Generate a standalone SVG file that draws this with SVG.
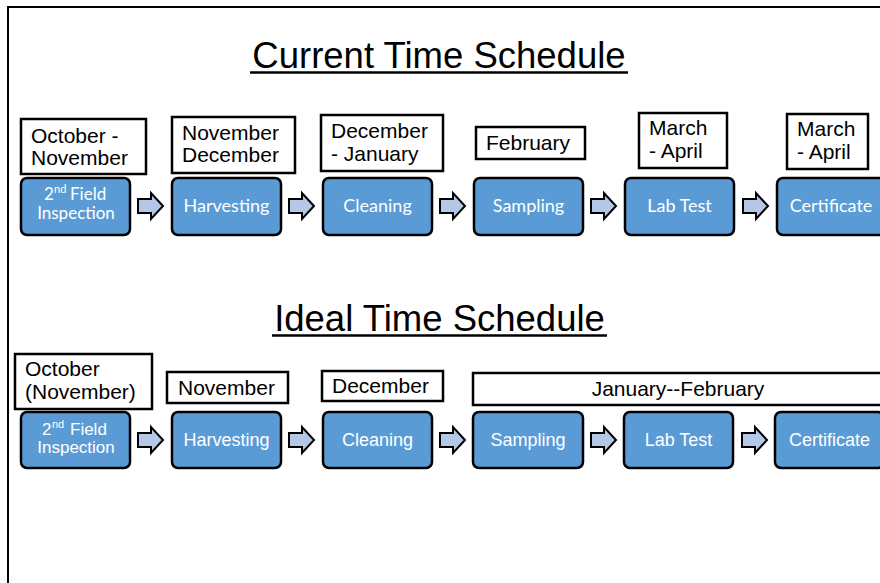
<svg xmlns="http://www.w3.org/2000/svg" width="880" height="583" viewBox="0 0 880 583">
  <style>
    .title { font-family: "Liberation Sans", Arial, sans-serif; font-size: 36.5px; fill: #000; }
    .lbl rect { fill: #fff; stroke: #000; stroke-width: 2.5; }
    .lbl text { font-family: "Liberation Sans", Arial, sans-serif; font-size: 21px; fill: #000; }
    .step rect { fill: #5B9BD5; stroke: #000; stroke-width: 2.5; }
    .step text { fill: #fff; text-anchor: middle; }
    .step text.l { text-anchor: start; }
    .cal text { font-family: Lato, "Open Sans", sans-serif; font-size: 18px; }
    .ari text { font-family: "Liberation Sans", Arial, sans-serif; font-size: 18px; }
    .step text.sup { font-size: 11px; }
    .step text.two { font-size: 17px; }
    .arrow { fill: #B4C7E7; stroke: #000; stroke-width: 2; stroke-linejoin: miter; }
  </style>
  <defs>
    <path id="arw" class="arrow" d="M0,-7 H13 V-13 L25,0 L13,13 V7 H0 Z"/>
  </defs>

  <rect width="880" height="583" fill="#fff"/>
  <!-- page frame (runs off the right and bottom edges) -->
  <path d="M8,583 V7 H880" fill="none" stroke="#000" stroke-width="2"/>

  <!-- section titles -->
  <g id="title-current">
    <text class="title" x="439" y="68" text-anchor="middle">Current Time Schedule</text>
    <line x1="250" y1="72.5" x2="628" y2="72.5" stroke="#000" stroke-width="2.5"/>
  </g>
  <g id="title-ideal">
    <text class="title" x="439.5" y="331" text-anchor="middle">Ideal Time Schedule</text>
    <line x1="272" y1="335.5" x2="607" y2="335.5" stroke="#000" stroke-width="2.5"/>
  </g>

  <!-- current schedule: month labels -->
  <g id="cur-lbl-1" class="lbl"><rect x="21" y="119" width="125" height="55"/>
    <text x="31" y="143">October -</text><text x="31" y="165">November</text></g>
  <g id="cur-lbl-2" class="lbl"><rect x="172" y="117" width="123" height="56"/>
    <text x="182" y="140">November</text><text x="182" y="162">December</text></g>
  <g id="cur-lbl-3" class="lbl"><rect x="321" y="115" width="122" height="56"/>
    <text x="331" y="138">December</text><text x="331" y="161">- January</text></g>
  <g id="cur-lbl-4" class="lbl"><rect x="476" y="127" width="109" height="32"/>
    <text x="486" y="150">February</text></g>
  <g id="cur-lbl-5" class="lbl"><rect x="639" y="113" width="88" height="55"/>
    <text x="649" y="135">March</text><text x="649" y="158">- April</text></g>
  <g id="cur-lbl-6" class="lbl"><rect x="787" y="114" width="81" height="55"/>
    <text x="797" y="136">March</text><text x="797" y="159">- April</text></g>

  <!-- current schedule: process steps -->
  <g id="cur-step-1" class="step cal"><rect x="21" y="178" width="109" height="57" rx="6"/>
    <text class="l two" x="44" y="200">2</text>
    <text class="l sup" x="54" y="193">nd</text>
    <text class="l two" x="70" y="200">Field</text>
    <text class="two" x="76" y="219">Inspection</text></g>
  <g id="cur-step-2" class="step cal"><rect x="172" y="178" width="109" height="57" rx="6"/>
    <text x="226.5" y="212">Harvesting</text></g>
  <g id="cur-step-3" class="step cal"><rect x="323" y="178" width="109" height="57" rx="6"/>
    <text x="377.5" y="212">Cleaning</text></g>
  <g id="cur-step-4" class="step cal"><rect x="474" y="178" width="109" height="57" rx="6"/>
    <text x="528.5" y="212">Sampling</text></g>
  <g id="cur-step-5" class="step cal"><rect x="625" y="178" width="109" height="57" rx="6"/>
    <text x="679.5" y="212">Lab Test</text></g>
  <g id="cur-step-6" class="step cal"><rect x="777" y="178" width="109" height="57" rx="6"/>
    <text x="831" y="212">Certificate</text></g>

  <!-- ideal schedule: month labels -->
  <g id="ide-lbl-1" class="lbl"><rect x="15" y="354" width="137" height="55"/>
    <text x="25" y="376">October</text><text x="25" y="399">(November)</text></g>
  <g id="ide-lbl-2" class="lbl"><rect x="167" y="372" width="121" height="31"/>
    <text x="178" y="395">November</text></g>
  <g id="ide-lbl-3" class="lbl"><rect x="322" y="371" width="121" height="30"/>
    <text x="332" y="393">December</text></g>
  <g id="ide-lbl-4" class="lbl"><rect x="473" y="373" width="420" height="32"/>
    <text x="678" y="396" text-anchor="middle">January--February</text></g>

  <!-- ideal schedule: process steps -->
  <g id="ide-step-1" class="step ari"><rect x="21" y="412" width="109" height="56" rx="6"/>
    <text class="l two" x="42" y="435">2</text>
    <text class="l sup" x="52" y="428">nd</text>
    <text class="l two" x="70" y="435">Field</text>
    <text class="two" x="76" y="453">Inspection</text></g>
  <g id="ide-step-2" class="step ari"><rect x="172" y="412" width="109" height="56" rx="6"/>
    <text x="226.5" y="446">Harvesting</text></g>
  <g id="ide-step-3" class="step ari"><rect x="323" y="412" width="109" height="56" rx="6"/>
    <text x="377.5" y="446">Cleaning</text></g>
  <g id="ide-step-4" class="step ari"><rect x="473" y="412" width="110" height="56" rx="6"/>
    <text x="528" y="446">Sampling</text></g>
  <g id="ide-step-5" class="step ari"><rect x="624" y="412" width="109" height="56" rx="6"/>
    <text x="678.5" y="446">Lab Test</text></g>
  <g id="ide-step-6" class="step ari"><rect x="775" y="412" width="109" height="56" rx="6"/>
    <text x="829.5" y="446">Certificate</text></g>

  <!-- connectors: block arrows between steps -->
  <g id="connectors">
    <use href="#arw" x="138" y="206"/>
    <use href="#arw" x="289" y="206"/>
    <use href="#arw" x="440" y="206"/>
    <use href="#arw" x="591" y="206"/>
    <use href="#arw" x="743" y="206"/>
    <use href="#arw" x="138" y="440"/>
    <use href="#arw" x="289" y="440"/>
    <use href="#arw" x="440" y="440"/>
    <use href="#arw" x="591" y="440"/>
    <use href="#arw" x="742" y="440"/>
  </g>
</svg>
